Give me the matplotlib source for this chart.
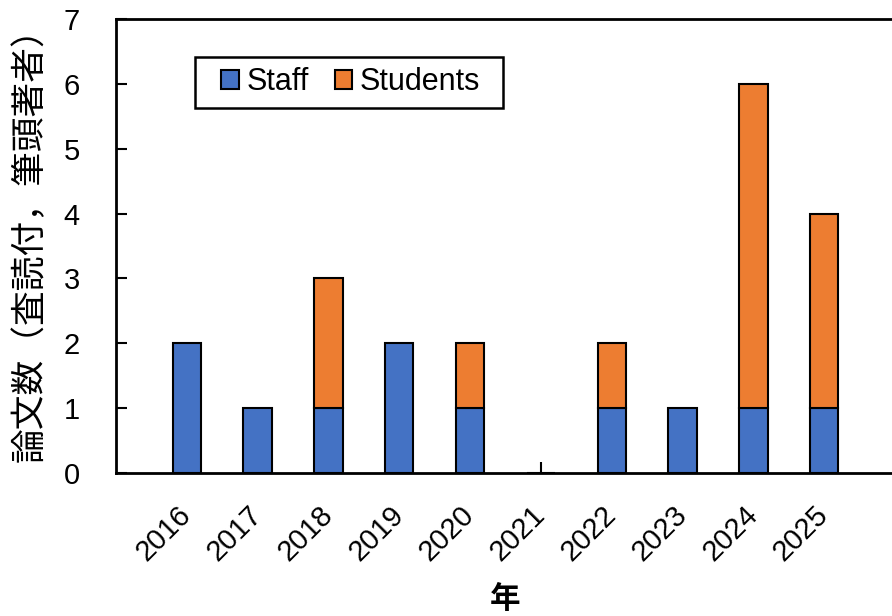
import matplotlib.pyplot as plt
from matplotlib.patches import Rectangle
import numpy as np

plt.rcParams['font.family'] = ['Liberation Sans', 'Noto Sans CJK JP']

years = [2016, 2017, 2018, 2019, 2020, 2021, 2022, 2023, 2024, 2025]
staff = [2, 1, 1, 2, 1, 0, 1, 1, 1, 1]
students = [0, 0, 2, 0, 1, 0, 1, 0, 5, 3]

staff = np.array(staff)
students = np.array(students)
x = np.array(years)

fig = plt.figure(figsize=(8.92, 6.16), dpi=100)
ax = fig.add_axes([116/892, 1 - 473/616, 779/892, 454/616])

w = 0.4
ax.bar(x, staff, width=w, color='#4472C4', edgecolor='black', lw=1.5, label='Staff', zorder=2)
m = students > 0
ax.bar(x[m], students[m], width=w, bottom=staff[m], color='#ED7D31', edgecolor='black', lw=1.5,
       label='Students', zorder=2)

ax.set_xlim(2015, 2026)
ax.set_ylim(0, 7)
ax.set_yticks(range(0, 8))
# tick marks at the bar centres, labels nudged slightly left (as in the original)
ax.set_xticks(years, [''] * len(years))
ax.set_xticks(x - 0.14, [str(y) for y in years], minor=True, rotation=45, ha='right', va='top',
              rotation_mode='anchor', fontsize=21)
ax.tick_params(axis='x', which='minor', length=0, pad=20)
ax.tick_params(axis='y', direction='in', labelsize=21, length=8, width=1.5, pad=26)
ax.tick_params(axis='x', which='major', direction='in', length=8, width=1.5)
for s in ax.spines.values():
    s.set_linewidth(2)

ax.set_ylabel('論文数（査読付，筆頭著者）', fontsize=25, family=['Noto Sans CJK JP'])
ax.yaxis.set_label_coords(-0.087, 0.522)
ax.set_xlabel('年', fontsize=22, family=['Noto Sans CJK JP'], fontweight='bold', labelpad=12)

leg = ax.legend(ncol=2, loc='center left', bbox_to_anchor=((221 - 116) / 779, (473 - 82.5) / 454),
                fontsize=22, frameon=False, handlelength=0.58, handleheight=0.58,
                handletextpad=0.25, columnspacing=0.85, borderpad=0, borderaxespad=0)
ax.add_patch(Rectangle(((195 - 116) / 779, (473 - 108) / 454), 308 / 779, 51 / 454,
                       transform=ax.transAxes, fill=False, edgecolor='black', lw=1.8, zorder=5))

fig.savefig('out.png', dpi=100)
